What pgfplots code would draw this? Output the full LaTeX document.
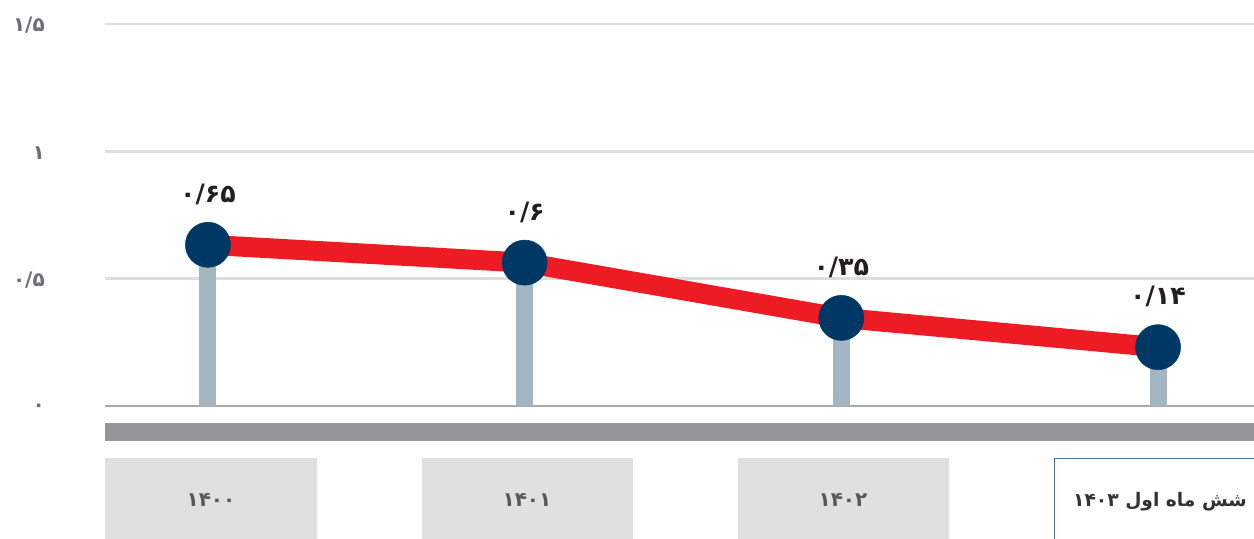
\documentclass[border=0pt]{standalone}
\usepackage{pgfplots}
\pgfplotsset{compat=1.18}
\usepackage{fontspec}
\TeXXeTstate=1
\newfontfamily\arabicfont[Script=Arabic]{DejaVu Sans}
\setmainfont{DejaVu Sans}
\definecolor{redline}{HTML}{ED1C24}
\definecolor{navy}{HTML}{003865}
\definecolor{stem}{HTML}{A2B5C1}
\definecolor{gridc}{HTML}{DCDDDE}
\definecolor{zeroc}{HTML}{A7A9AC}
\definecolor{band}{HTML}{939598}
\definecolor{boxc}{HTML}{E1E0E1}
\definecolor{boxborder}{HTML}{4A6FA5}
\definecolor{ticktext}{HTML}{6D6E71}
\definecolor{cattext}{HTML}{58595B}
\definecolor{valtext}{HTML}{231F20}
\begin{document}
\begin{tikzpicture}
\path[use as bounding box] (0pt,0pt) rectangle (940.5pt,-404.25pt);
\begin{axis}[
  at={(78.75pt,-304.5pt)}, anchor=south west,
  scale only axis, width=861.75pt, height=286.5pt,
  xmin=-0.325, xmax=3.303, ymin=0, ymax=1.5,
  axis line style={draw=none},
  clip=false,
  ytick={0.5,1,1.5},
  yticklabels={{\arabicfont ۰/۵},{\arabicfont ۱},{\arabicfont ۱/۵}},
  extra y ticks={0},
  extra y tick labels={{\arabicfont ۰}},
  extra y tick style={grid style={zeroc, line width=2.2pt}},
  ymajorgrids,
  grid style={gridc, line width=2.2pt},
  major tick length=0pt,
  xtick=\empty,
  yticklabel style={anchor=east, inner sep=0pt, xshift=-45pt, yshift=-1pt, font=\bfseries\fontsize{15}{15}\selectfont, text=ticktext},
]
\addplot[ycomb, stem, line width=12.75pt, mark=none] coordinates {(0,0.633) (1,0.563) (2,0.346) (3,0.231)};
\addplot[redline, line width=15pt, line join=round, mark=none] coordinates {(0,0.633) (1,0.563) (2,0.346) (3,0.231)};
\addplot[only marks, mark=*, mark size=16.9pt, mark options={fill=navy, draw=navy},
  point meta=explicit symbolic,
  nodes near coords,
  every node near coord/.style={anchor=center, yshift=38pt, font=\arabicfont\bfseries\fontsize{19}{19}\selectfont, text=valtext}]
  coordinates {
(0,0.633) [۰/۶۵]
(1,0.563) [۰/۶]
(2,0.346) [۰/۳۵]
(3,0.231) [۰/۱۴]
};
\end{axis}
\begin{scope}[x=0.75pt, y=-0.75pt]
\fill[band] (105,423) rectangle (1254,441);
\fill[boxc] (105,458) rectangle (317,539);
\fill[boxc] (422,458) rectangle (633,539);
\fill[boxc] (738,458) rectangle (949,539);
\draw[boxborder, line width=1.1pt] (1054.5,539) -- (1054.5,458.5) -- (1254,458.5);
\node[font=\arabicfont\bfseries\fontsize{15}{15}\selectfont, text=cattext] at (211,500) {۱۴۰۰};
\node[font=\arabicfont\bfseries\fontsize{15}{15}\selectfont, text=cattext] at (527,500) {۱۴۰۱};
\node[font=\arabicfont\bfseries\fontsize{15}{15}\selectfont, text=cattext] at (843,500) {۱۴۰۲};
\node[font=\arabicfont\bfseries\fontsize{14}{14}\selectfont, text=black!80] at (1160,502) {\beginR شش ماه اول \beginL ۱۴۰۳\endL{}\endR};
\end{scope}
\end{tikzpicture}
\end{document}
